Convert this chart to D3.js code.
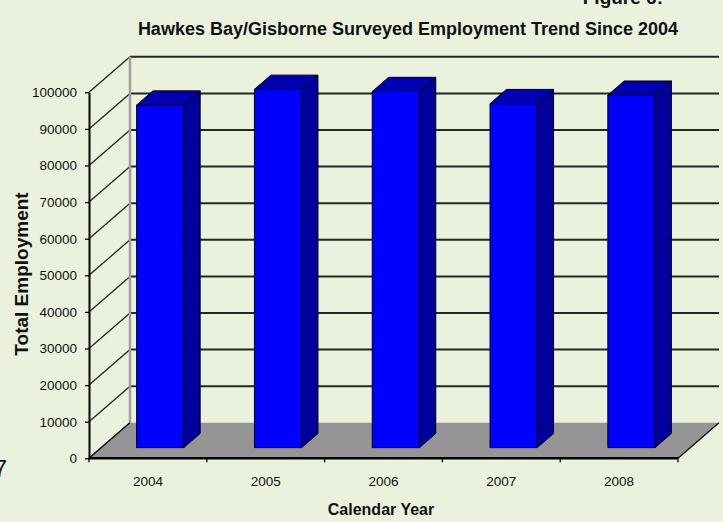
<!DOCTYPE html>
<html>
<head>
<meta charset="utf-8">
<script src="https://cdn.jsdelivr.net/npm/d3@7/dist/d3.min.js"></script>
<style>
  html, body { margin: 0; padding: 0; background: #EAF1DD; }
  svg { display: block; font-family: "Liberation Sans", Arial, sans-serif; }
</style>
</head>
<body>
<svg id="chart" width="723" height="522"></svg>
<script>
// Surveyed employment, Hawkes Bay/Gisborne
const years = ["2004", "2005", "2006", "2007", "2008"];
const employment = [93600, 97900, 97300, 94000, 96300];
const yTicks = [0, 10000, 20000, 30000, 40000, 50000, 60000, 70000, 80000, 90000, 100000];

const svg = d3.select("#chart");

// front plane of the 3-D box and its depth offset
const plotLeft = 89, plotRight = 678, plotBase = 458.3, plotTop = 92.3;
const depthX = 41, depthY = 35.5;

const x = d3.scaleBand().domain(years).range([plotLeft, plotRight])
  .paddingInner(0.6).paddingOuter(0.3);
const y = d3.scaleLinear().domain([0, 100000]).range([plotBase, plotTop]);

// project (screen x, value, depth fraction) to screen coordinates
const proj = (xs, v, d) => [xs + d * depthX, y(v) - d * depthY];
const poly = pts => pts.map(p => p.join(",")).join(" ");

// back wall grid lines
svg.append("g").selectAll("line").data(yTicks.filter(v => v > 0)).join("line")
  .attr("x1", d => proj(plotLeft, d, 1)[0]).attr("y1", d => proj(plotLeft, d, 1)[1])
  .attr("x2", d => proj(plotRight, d, 1)[0]).attr("y2", d => proj(plotRight, d, 1)[1])
  .attr("stroke", "#262626").attr("stroke-width", 2);

// side wall diagonals
svg.append("g").selectAll("line").data(yTicks).join("line")
  .attr("x1", d => proj(plotLeft, d, 0)[0]).attr("y1", d => proj(plotLeft, d, 0)[1])
  .attr("x2", d => proj(plotLeft, d, 1)[0]).attr("y2", d => proj(plotLeft, d, 1)[1])
  .attr("stroke", "#222").attr("stroke-width", 1.3);

// back corner edge
svg.append("line")
  .attr("x1", proj(plotLeft, 0, 1)[0]).attr("y1", proj(plotLeft, 0, 1)[1])
  .attr("x2", proj(plotLeft, 100000, 1)[0]).attr("y2", proj(plotLeft, 100000, 1)[1])
  .attr("stroke", "#a0a0a0").attr("stroke-width", 2.5);

// floor
svg.append("polygon")
  .attr("points", poly([proj(plotLeft, 0, 0), proj(plotRight, 0, 0), proj(plotRight, 0, 1), proj(plotLeft, 0, 1)]))
  .attr("fill", "#959595");
svg.append("line")
  .attr("x1", proj(plotRight, 0, 0)[0]).attr("y1", proj(plotRight, 0, 0)[1])
  .attr("x2", proj(plotRight, 0, 1)[0]).attr("y2", proj(plotRight, 0, 1)[1])
  .attr("stroke", "#111").attr("stroke-width", 1.3);
svg.append("line")
  .attr("x1", proj(plotLeft, 0, 0)[0]).attr("y1", proj(plotLeft, 0, 0)[1])
  .attr("x2", proj(plotLeft, 0, 1)[0]).attr("y2", proj(plotLeft, 0, 1)[1])
  .attr("stroke", "#111").attr("stroke-width", 1.3);

// bars
const d0 = 0.3, d1 = 0.7, bw = x.bandwidth();
const bars = svg.append("g").selectAll("g").data(years.map((yr, i) => ({ yr, v: employment[i] })))
  .join("g");
bars.append("polygon")
  .attr("points", d => { const xs = x(d.yr); return poly([proj(xs, 0, d0), proj(xs + bw, 0, d0), proj(xs + bw, d.v, d0), proj(xs, d.v, d0)]); })
  .attr("fill", "#0000FF").attr("stroke", "#000").attr("stroke-width", 1);
bars.append("polygon")
  .attr("points", d => { const xs = x(d.yr) + bw; return poly([proj(xs, 0, d0), proj(xs, 0, d1), proj(xs, d.v, d1), proj(xs, d.v, d0)]); })
  .attr("fill", "#00009C").attr("stroke", "#000").attr("stroke-width", 1);
bars.append("polygon")
  .attr("points", d => { const xs = x(d.yr); return poly([proj(xs, d.v, d0), proj(xs + bw, d.v, d0), proj(xs + bw, d.v, d1), proj(xs, d.v, d1)]); })
  .attr("fill", "#0000B0").attr("stroke", "#000").attr("stroke-width", 1);

// value axis
const yAxis = svg.append("g").attr("transform", `translate(${plotLeft},0)`)
  .call(d3.axisLeft(y).tickValues(yTicks).tickFormat(d3.format("d")).tickSize(4).tickSizeOuter(0).tickPadding(8));
yAxis.select(".domain").attr("stroke", "#000").attr("stroke-width", 2);
yAxis.selectAll(".tick line").attr("stroke", "#000").attr("stroke-width", 1.3);
yAxis.selectAll("text").attr("font-size", 13.5).attr("fill", "#111").attr("font-family", "Liberation Sans, Arial, sans-serif");

// category axis
svg.append("line").attr("x1", plotLeft).attr("x2", plotRight).attr("y1", plotBase).attr("y2", plotBase)
  .attr("stroke", "#000").attr("stroke-width", 2.5);
svg.append("g").selectAll("line").data(d3.range(years.length + 1)).join("line")
  .attr("x1", i => plotLeft + i * x.step()).attr("x2", i => plotLeft + i * x.step())
  .attr("y1", plotBase).attr("y2", plotBase + 4).attr("stroke", "#000").attr("stroke-width", 1.3);
const xAxis = svg.append("g").attr("transform", `translate(0,${plotBase})`)
  .call(d3.axisBottom(x).tickSize(0).tickPadding(18.5));
xAxis.select(".domain").remove();
xAxis.selectAll("text").attr("font-size", 13.5).attr("fill", "#111").attr("font-family", "Liberation Sans, Arial, sans-serif");

// titles
svg.append("text").attr("x", 408).attr("y", 35).attr("text-anchor", "middle")
  .attr("font-size", 18).attr("font-weight", "bold").attr("fill", "#111")
  .text("Hawkes Bay/Gisborne Surveyed Employment Trend Since 2004");
svg.append("text").attr("x", 663).attr("y", 4).attr("text-anchor", "end")
  .attr("font-size", 19).attr("font-weight", "bold").attr("fill", "#111")
  .text("Figure 6:");
svg.append("text").attr("x", 381).attr("y", 515).attr("text-anchor", "middle")
  .attr("font-size", 16).attr("font-weight", "bold").attr("fill", "#111")
  .text("Calendar Year");
svg.append("text").attr("transform", "translate(28,274) rotate(-90)").attr("text-anchor", "middle")
  .attr("font-size", 19).attr("font-weight", "bold").attr("fill", "#111")
  .text("Total Employment");
svg.append("text").attr("x", 7).attr("y", 477).attr("text-anchor", "end")
  .attr("font-size", 24).attr("fill", "#111")
  .text("7");
</script>
</body>
</html>
